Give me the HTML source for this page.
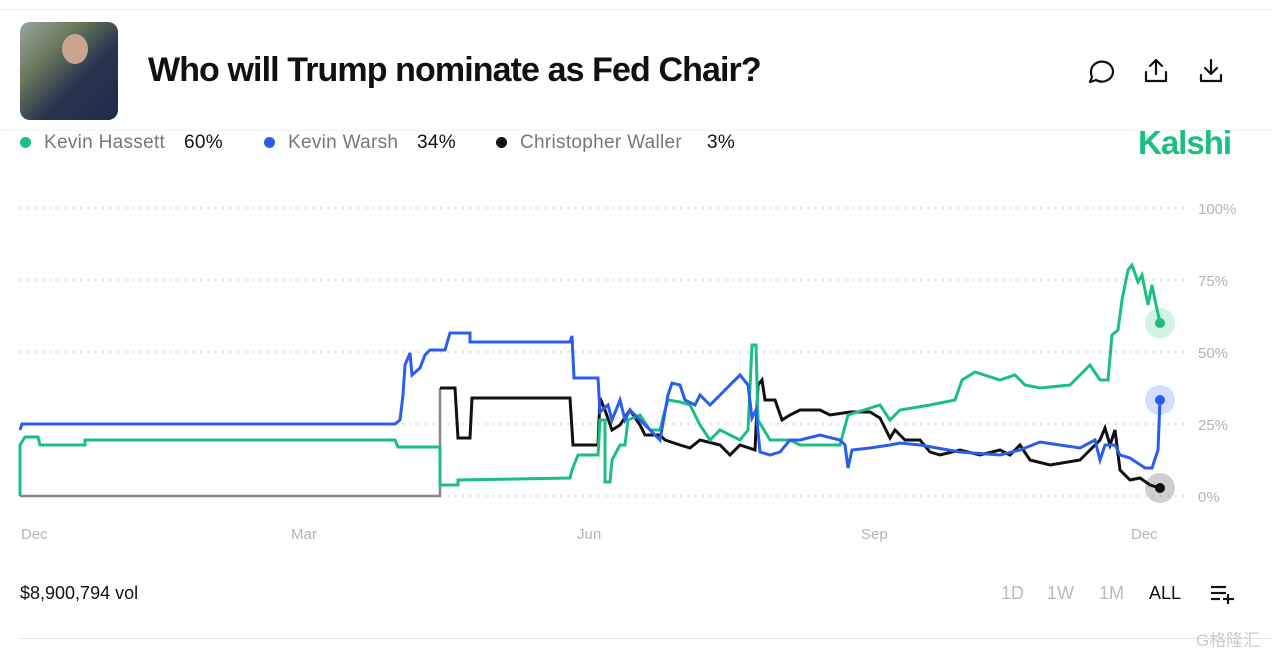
<!DOCTYPE html>
<html><head><meta charset="utf-8"><style>
body{margin:0;width:1272px;height:652px;background:#fff;font-family:"Liberation Sans",sans-serif;overflow:hidden;position:relative}
.a{position:absolute;white-space:nowrap}
.l{position:absolute;top:132px;font-size:19px;color:#777;letter-spacing:0.3px}
.d{position:absolute;top:137px;width:11px;height:11px;border-radius:50%}
</style></head><body>
<div class="a" style="left:0;top:9px;width:1272px;height:1px;background:#eee"></div>
<div class="a" style="left:20px;top:22px;width:98px;height:98px;border-radius:10px;background:linear-gradient(135deg,#9aa6a0 0%,#6b7a5c 30%,#2a3550 60%,#1c2a4a 100%)"></div>
<div class="a" style="left:62px;top:34px;width:26px;height:30px;border-radius:50%;background:#c9a58d"></div>
<div class="a" style="left:148px;top:51px;font-size:34px;font-weight:bold;color:#111;letter-spacing:-0.9px">Who will Trump nominate as Fed Chair?</div>
<svg class="a" style="left:1085px;top:56px" width="150" height="32" fill="none" stroke="#111" stroke-width="2.2" stroke-linecap="round" stroke-linejoin="round">
<path d="M6 16a11 10 0 1 1 5 8l-6 2 2-5a10 10 0 0 1-1-5z"/>
<path d="M71 4v14M65 10l6-6 6 6M61 16v9h20v-9"/>
<path d="M126 4v14M120 12l6 6 6-6M116 19v6h20v-6"/>
</svg>
<div class="a" style="left:0;top:130px;width:1272px;height:1px;background:#f3f3f3"></div>
<div class="d" style="left:20px;background:#1bbf7f"></div>
<div class="l" style="left:44px">Kevin Hassett</div><div class="l" style="left:184px;color:#111">60%</div>
<div class="d" style="left:264px;background:#2a5cf0"></div>
<div class="l" style="left:288px">Kevin Warsh</div><div class="l" style="left:417px;color:#111">34%</div>
<div class="d" style="left:496px;background:#111"></div>
<div class="l" style="left:520px">Christopher Waller</div><div class="l" style="left:707px;color:#111">3%</div>
<div class="a" style="left:1138px;top:124px;font-size:33px;font-weight:bold;color:#1bbf7f;letter-spacing:-1px">Kalshi</div>
<svg class="a" style="left:0;top:0" width="1272" height="652">
<g stroke="#ccc" stroke-width="1.5" stroke-dasharray="1.5 6">
<line x1="20" y1="208" x2="1190" y2="208"/><line x1="20" y1="280" x2="1190" y2="280"/><line x1="20" y1="352" x2="1190" y2="352"/><line x1="20" y1="424" x2="1190" y2="424"/><line x1="20" y1="496" x2="1190" y2="496"/></g>
<g font-size="15" fill="#b5b5b5" font-family="Liberation Sans,sans-serif">
<text x="1198" y="214">100%</text><text x="1198" y="286">75%</text><text x="1198" y="358">50%</text><text x="1198" y="430">25%</text><text x="1198" y="502">0%</text>
<text x="21" y="539">Dec</text><text x="291" y="539">Mar</text><text x="577" y="539">Jun</text><text x="861" y="539">Sep</text><text x="1131" y="539">Dec</text></g>
<polyline fill="none" stroke="#888" stroke-width="2.5" points="20,496 440,496 440,388"/>
<polyline fill="none" stroke="#111" stroke-width="3" points="440,388 455,388 458,438 470,438 472,398 570,398 573,445 598,445 600,398 605,410 612,430 620,425 630,410 640,425 645,435 660,435 665,440 680,445 690,448 700,440 720,445 730,455 740,445 755,450 758,385 762,380 765,400 775,400 782,420 790,415 800,410 820,410 830,415 850,412 870,412 880,418 890,438 895,430 905,440 920,440 930,452 940,455 960,450 980,455 1000,450 1010,455 1020,445 1030,460 1050,465 1080,460 1085,455 1100,440 1105,428 1110,445 1115,430 1120,470 1130,480 1140,478 1150,485 1160,488"/>
<polyline fill="none" stroke="#1bbf7f" stroke-width="3" points="20,496 20,445 25,437 38,437 40,445 85,445 85,440 395,440 398,447 440,447 440,485 458,485 458,480 570,478 572,470 578,455 598,455 600,420 605,420 605,482 610,482 612,460 620,445 625,445 628,420 640,415 650,430 660,430 665,410 668,400 680,402 690,405 700,425 710,440 720,430 740,440 748,430 752,345 756,345 758,420 770,440 790,440 800,445 840,445 848,415 880,405 890,420 900,410 930,405 955,400 962,380 975,372 1000,380 1015,375 1025,385 1040,388 1070,385 1080,375 1090,365 1100,380 1108,380 1112,335 1118,330 1122,300 1128,270 1132,265 1138,282 1142,275 1148,305 1152,285 1155,300 1160,323"/>
<polyline fill="none" stroke="#2a5cf0" stroke-width="3" points="20,430 22,424 30,424 395,424 400,420 403,395 405,365 410,353 412,375 420,368 425,355 430,350 445,350 450,333 470,333 470,342 570,342 572,336 574,378 598,378 600,412 608,405 612,420 620,400 625,420 630,410 640,420 655,435 660,440 668,395 672,383 680,385 685,400 695,405 700,395 710,405 730,385 740,375 748,385 752,418 756,410 760,452 770,455 780,452 790,440 800,440 820,435 840,440 845,445 848,468 852,450 870,448 890,445 900,443 920,445 960,452 1000,455 1020,450 1040,442 1060,445 1080,448 1095,440 1100,460 1105,445 1115,445 1120,455 1130,458 1145,468 1152,468 1158,450 1160,400"/>
<circle cx="1160" cy="323" r="15" fill="#1bbf7f" opacity="0.2"/><circle cx="1160" cy="323" r="5" fill="#1bbf7f"/>
<circle cx="1160" cy="400" r="15" fill="#2a5cf0" opacity="0.2"/><circle cx="1160" cy="400" r="5" fill="#2a5cf0"/>
<circle cx="1160" cy="488" r="15" fill="#111" opacity="0.2"/><circle cx="1160" cy="488" r="5" fill="#111"/>
<g stroke="#111" stroke-width="2.2"><line x1="1211" y1="587" x2="1226" y2="587"/><line x1="1211" y1="593" x2="1226" y2="593"/><line x1="1211" y1="599" x2="1220" y2="599"/><line x1="1228" y1="594" x2="1228" y2="604"/><line x1="1223" y1="599" x2="1234" y2="599"/></g>
</svg>
<div class="a" style="left:20px;top:583px;font-size:18px;color:#111">$8,900,794 vol</div>
<div class="a" style="left:1001px;top:583px;font-size:18px;color:#bbb">1D</div>
<div class="a" style="left:1047px;top:583px;font-size:18px;color:#bbb">1W</div>
<div class="a" style="left:1099px;top:583px;font-size:18px;color:#bbb">1M</div>
<div class="a" style="left:1149px;top:583px;font-size:18px;color:#111">ALL</div>
<div class="a" style="left:20px;top:638px;width:1252px;height:1px;background:#e5e5e5"></div>
<div class="a" style="left:1196px;top:626px;font-size:17px;color:#ccc;font-family:'Liberation Sans','Noto Sans CJK SC',sans-serif">G格隆汇</div>
</body></html>
